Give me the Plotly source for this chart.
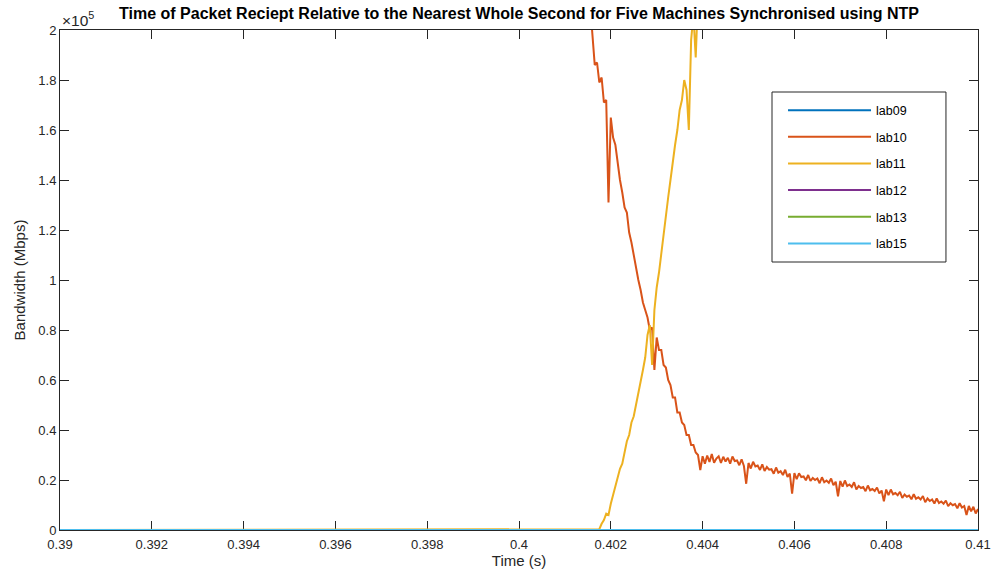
import numpy as np
import plotly.graph_objects as go

# ---------------- data (values in units of 1000 Mbps) ----------------
names = ["lab09", "lab10", "lab11", "lab12", "lab13", "lab15"]
colors = ["#0072BD", "#D95319", "#EDB120", "#7E2F8E", "#77AC30", "#4DBEEE"]

t_flat = [0.39, 0.41]
flat_vals = [0, 0]

step = 0.00005
t10_start = 0.40155
lab10_k = [
    210, 197, 186, 187, 179, 181, 171, 172, 131, 165,
    157, 154, 146, 140, 135, 129, 127, 119, 115, 110,
    104, 100, 96, 91, 88, 85, 80, 81, 64, 77,
    72, 72, 66, 65, 60, 58, 53, 53, 47, 47,
    43, 42, 38, 38, 34, 34, 31, 30, 24, 29.5,
    26.5, 29.8, 27.2, 30.4, 26.9, 28.6, 29.5, 26.8, 29.3, 27.4,
    28.9, 26.5, 29.4, 27.6, 27.8, 25.9, 28.3, 25.6, 18.5, 26.8,
    24.6, 27.3, 25.4, 25.8, 24.0, 26.3, 23.6, 25.2, 24.1, 24.3,
    22.5, 25.0, 22.9, 23.5, 22.0, 24.1, 21.2, 22.6, 14.5, 22.8,
    20.3, 22.7, 21.2, 21.4, 19.9, 22.0, 19.6, 20.8, 20.0, 20.6,
    18.7, 21.1, 19.1, 19.8, 18.9, 20.6, 17.9, 19.3, 13.5, 19.6,
    17.3, 19.8, 17.6, 18.2, 17.2, 19.1, 16.2, 17.6, 16.8, 17.2,
    15.5, 17.8, 15.9, 16.4, 15.6, 17.0, 14.6, 15.8, 11.5, 16.2,
    13.9, 16.2, 14.3, 14.8, 13.9, 15.3, 12.8, 14.2, 13.3, 13.8,
    12.3, 14.3, 12.5, 13.1, 12.2, 13.6, 11.1, 12.6, 11.6, 12.2,
    10.6, 12.6, 10.8, 11.4, 10.5, 11.8, 9.5, 10.7, 9.9, 10.4,
    8.7, 10.7, 9.0, 9.6, 6.0, 9.6, 7.5, 9.3, 6.6, 8.4,
]

t11_start = 0.40170
lab11_k = [
    0, 0.3, 2.5, 4.0, 6.5, 6.0, 10.5, 14.0, 17.5, 20.0,
    24.5, 26.5, 31.0, 35.5, 38.0, 43.0, 45.5, 50.0, 53.5, 58.0,
    64.0, 69.0, 78.0, 82.0, 66.0, 88.0, 97.0, 103.0, 111.0, 117.0,
    126.0, 133.0, 140.0, 148.0, 154.0, 160.0, 168.0, 172.0, 180.0, 176.0,
    160.0, 196.0, 206.0, 189.0, 215.0, 240.0, 260.0,
]

x_ticks = [0.39, 0.392, 0.394, 0.396, 0.398, 0.4, 0.402, 0.404, 0.406, 0.408, 0.41]
x_tick_text = ["0.39", "0.392", "0.394", "0.396", "0.398", "0.4", "0.402", "0.404", "0.406", "0.408", "0.41"]
y_ticks = [0, 20000, 40000, 60000, 80000, 100000, 120000, 140000, 160000, 180000, 200000]
y_tick_text = ["0", "0.2", "0.4", "0.6", "0.8", "1", "1.2", "1.4", "1.6", "1.8", "2"]

# ---------------- build series ----------------
t10 = [round(t10_start + i * step, 6) for i in range(len(lab10_k))]
v10 = [v * 1000 for v in lab10_k]
t11 = [0.39] + [round(t11_start + i * step, 6) for i in range(len(lab11_k))]
v11 = [0] + [v * 1000 for v in lab11_k]

series = {
    "lab09": (t_flat, flat_vals),
    "lab10": (t10, v10),
    "lab11": (t11, v11),
    "lab12": (t_flat, flat_vals),
    "lab13": (t_flat, flat_vals),
    "lab15": (t_flat, flat_vals),
}

FONT = "Liberation Sans, Arial, Helvetica, sans-serif"
AX = "#262626"

fig = go.Figure()
for name, col in zip(names, colors):
    x, y = series[name]
    fig.add_trace(go.Scatter(
        x=x, y=y, mode="lines", name=name,
        line=dict(color=col, width=2),
        legendgroup=name,
    ))

fig.update_layout(
    width=995, height=574,
    margin=dict(l=60, r=17, t=30, b=44),
    paper_bgcolor="white", plot_bgcolor="white",
    font=dict(family=FONT, size=13, color=AX),
    title=dict(
        text="<b>Time of Packet Reciept Relative to the Nearest Whole Second for Five Machines Synchronised using NTP</b>",
        x=0.5216, xanchor="center", y=0.976, yanchor="middle",
        font=dict(size=16, color="black", family=FONT),
    ),
    showlegend=True,
    legend=dict(
        x=0.7876, xanchor="left", y=0.869, yanchor="top",
        bgcolor="rgba(0,0,0,0)", borderwidth=0,
        font=dict(size=12.5, color="black", family=FONT),
        itemwidth=83, tracegroupgap=7.4,
    ),
    shapes=[dict(
        type="rect", xref="paper", yref="paper",
        x0=0.7756, x1=0.9651, y0=0.536, y1=0.876,
        line=dict(color=AX, width=1), fillcolor="white", layer="above",
    )],
)

fig.update_xaxes(
    range=[0.39, 0.41], tickvals=x_ticks, ticktext=x_tick_text,
    ticks="inside", ticklen=9, tickcolor=AX, tickwidth=1,
    showline=True, linecolor=AX, linewidth=1, mirror="ticks",
    showgrid=False, zeroline=False, automargin=False,
    layer="below traces",
    ticklabelstandoff=2,
    title=dict(text="Time (s)", standoff=2, font=dict(size=15, color=AX)),
    tickfont=dict(size=13, color=AX),
)
fig.update_yaxes(
    range=[0, 200000], tickvals=y_ticks, ticktext=y_tick_text,
    ticks="inside", ticklen=9, tickcolor=AX, tickwidth=1,
    showline=True, linecolor=AX, linewidth=1, mirror="ticks",
    showgrid=False, zeroline=False, automargin=False,
    layer="below traces",
    title=dict(text="Bandwidth (Mbps)", standoff=9, font=dict(size=15, color=AX)),
    tickfont=dict(size=13, color=AX),
)

fig.add_annotation(
    xref="paper", yref="paper", x=0.0, y=1.0, xanchor="left", yanchor="bottom",
    text="×10<sup>5</sup>", showarrow=False, font=dict(size=15.5, color=AX, family=FONT),
    xshift=0, yshift=-1,
)

fig.write_html(
    "out.html",
    config={"displayModeBar": False},
    post_script="document.body.style.margin='0';document.body.style.padding='0';",
)
